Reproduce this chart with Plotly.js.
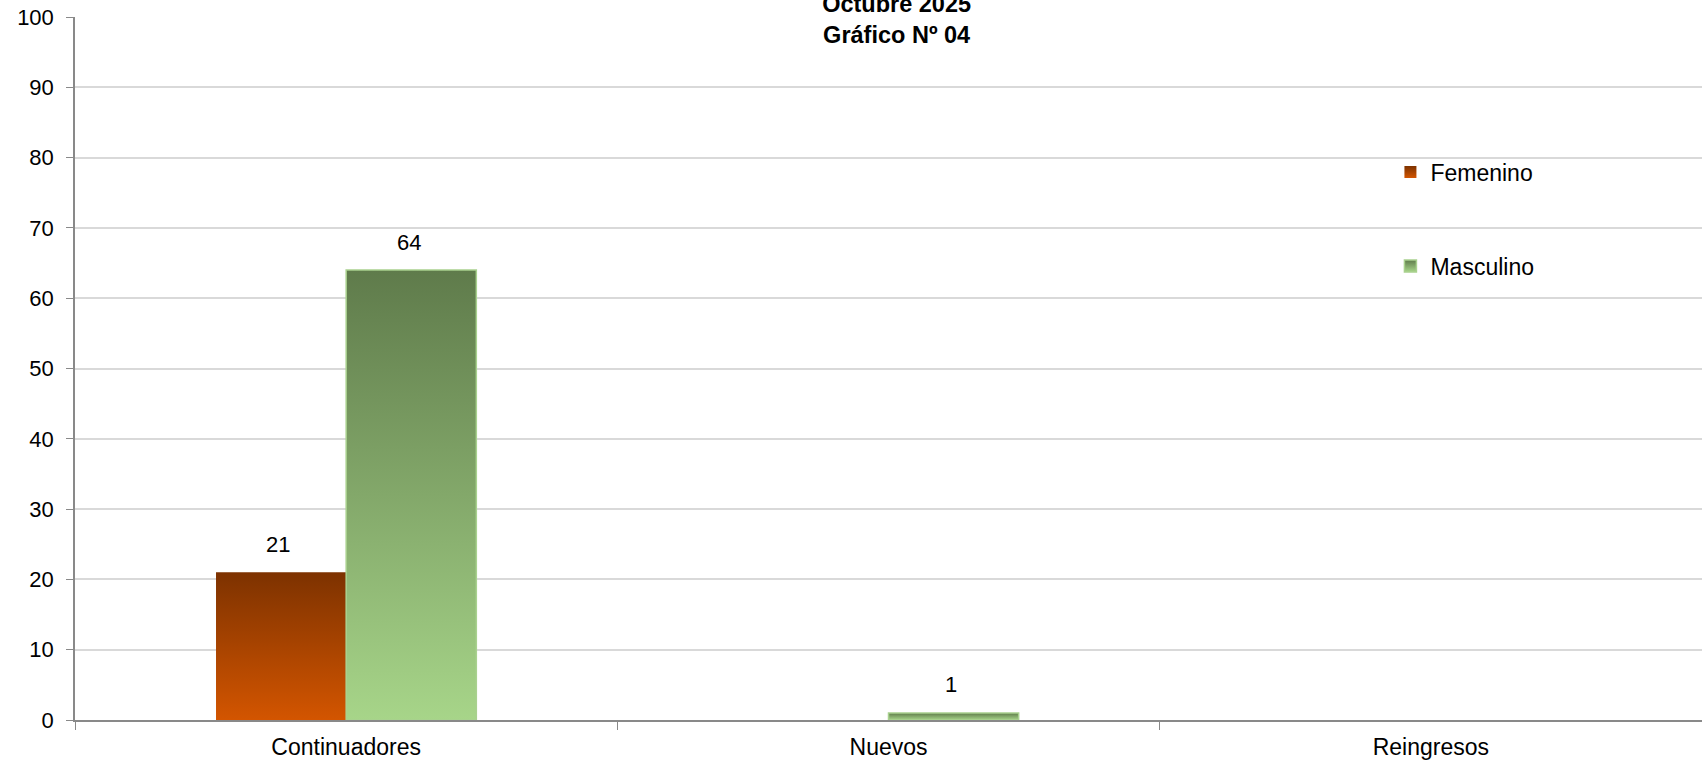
<!DOCTYPE html>
<html>
<head>
<meta charset="utf-8">
<script src="https://cdn.plot.ly/plotly-3.0.1.min.js"></script>
<style>
  html, body { margin: 0; padding: 0; background: #ffffff; }
  #chart { width: 1702px; height: 765px; }
</style>
</head>
<body>
<div id="chart"></div>
<script>
// ---- data ----
const categories = ["Continuadores", "Nuevos", "Reingresos"];
const femenino = [21, 0, 0];
const masculino = [64, 1, 0];
const seriesNames = ["Femenino", "Masculino"];
const titleLines = ["Octubre 2025", "Gráfico Nº 04"];
const yTicks = [0, 10, 20, 30, 40, 50, 60, 70, 80, 90, 100];

const FONT = '"Liberation Sans", Arial, sans-serif';
const BAR_W = 0.24;

const traces = [
  {
    type: 'bar', name: seriesNames[0], x: categories, y: femenino,
    width: BAR_W, offset: -BAR_W,
    marker: { color: '#b84a00', line: { width: 0 } },
    legendgroup: 'f', hoverinfo: 'x+y+name'
  },
  {
    type: 'bar', name: seriesNames[1], x: categories, y: masculino,
    width: BAR_W, offset: 0,
    marker: { color: '#84ab6a', line: { width: masculino.map(v => v > 0 ? 1.5 : 0), color: '#a9d18e' } },
    legendgroup: 'm', hoverinfo: 'x+y+name'
  }
];

const annotations = [];
[femenino, masculino].forEach((vals, s) => {
  vals.forEach((v, i) => {
    if (v > 0) {
      annotations.push({
        x: i + (s === 0 ? -BAR_W / 2 : BAR_W / 2) - 0.005,
        y: v, xref: 'x', yref: 'y',
        text: String(v), showarrow: false,
        yanchor: 'middle', yshift: 28,
        font: { family: FONT, size: 22, color: '#000000' }
      });
    }
  });
});

const layout = {
  width: 1702, height: 765,
  paper_bgcolor: '#ffffff', plot_bgcolor: '#ffffff',
  margin: { l: 75, r: 0, t: 17, b: 45, pad: 0 },
  font: { family: FONT, color: '#000000' },
  title: {
    text: '<b>' + titleLines.join('<br>') + '</b>',
    font: { family: FONT, size: 23.5, color: '#000000' },
    xref: 'paper', x: 0.505, xanchor: 'center',
    yref: 'container', y: 0.984, yanchor: 'middle'
  },
  barmode: 'group',
  showlegend: true,
  legend: {
    orientation: 'v', x: 0.8085, xanchor: 'left', y: 0.81, yanchor: 'top',
    bgcolor: 'rgba(0,0,0,0)', borderwidth: 0,
    font: { family: FONT, size: 23, color: '#000000' },
    traceorder: 'grouped', tracegroupgap: 61,
    itemclick: false, itemdoubleclick: false
  },
  xaxis: {
    type: 'category',
    showline: true, linecolor: '#898989', linewidth: 1.5,
    ticks: 'outside', tickson: 'boundaries', ticklen: 8, tickcolor: '#898989', tickwidth: 1,
    tickfont: { family: FONT, size: 23, color: '#000000' },
    ticklabelstandoff: 6,
    showgrid: false, zeroline: false, fixedrange: true
  },
  yaxis: {
    range: [0, 100], tickvals: yTicks, ticktext: yTicks.map(String),
    showline: true, linecolor: '#898989', linewidth: 1.5,
    ticks: 'outside', ticklen: 7, tickcolor: '#898989', tickwidth: 1,
    tickfont: { family: FONT, size: 22, color: '#000000' },
    ticklabelstandoff: 8,
    showgrid: true, gridcolor: '#d9d9d9', gridwidth: 1.5,
    zeroline: false, fixedrange: true
  },
  annotations: annotations
};

function addGradients() {
  const svg = document.querySelector('#chart .main-svg');
  if (!svg) return;
  const ns = 'http://www.w3.org/2000/svg';
  let defs = svg.querySelector('defs');
  if (!defs) { defs = document.createElementNS(ns, 'defs'); svg.insertBefore(defs, svg.firstChild); }
  const grads = [
    { id: 'gradFem', top: '#7d3200', bottom: '#d35500' },
    { id: 'gradMas', top: '#5f7b4b', bottom: '#a7d589' }
  ];
  grads.forEach(g => {
    if (document.getElementById(g.id)) return;
    const lg = document.createElementNS(ns, 'linearGradient');
    lg.setAttribute('id', g.id);
    lg.setAttribute('x1', '0'); lg.setAttribute('y1', '0');
    lg.setAttribute('x2', '0'); lg.setAttribute('y2', '1');
    const s1 = document.createElementNS(ns, 'stop');
    s1.setAttribute('offset', '0'); s1.setAttribute('stop-color', g.top);
    const s2 = document.createElementNS(ns, 'stop');
    s2.setAttribute('offset', '1'); s2.setAttribute('stop-color', g.bottom);
    lg.appendChild(s1); lg.appendChild(s2);
    defs.appendChild(lg);
  });
  const barTraces = document.querySelectorAll('#chart .barlayer .trace');
  barTraces.forEach((t, i) => {
    t.querySelectorAll('path').forEach(p => { p.style.fill = 'url(#' + grads[i].id + ')'; });
  });
  const legTraces = document.querySelectorAll('#chart .legend .traces');
  legTraces.forEach((t, i) => {
    t.querySelectorAll('.legendpoints path').forEach(p => { p.style.fill = 'url(#' + grads[i].id + ')'; });
  });
}

Plotly.newPlot('chart', traces, layout, { displayModeBar: false, staticPlot: false, responsive: false })
  .then(addGradients);
</script>
</body>
</html>
